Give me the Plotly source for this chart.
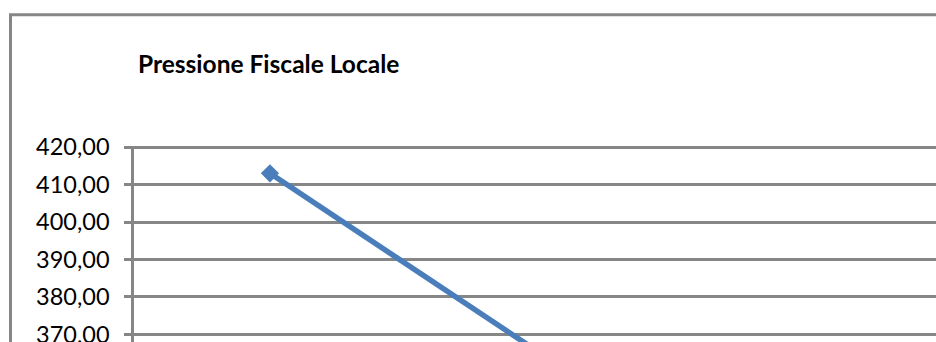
import plotly.graph_objects as go

categories = ["1", "2"]
values = [413.0, 364.7]
y_ticks = [370, 380, 390, 400, 410, 420]

W, H = 936, 342
Y_MIN, Y_MAX = 367.95, 420.3
PX_PER_UNIT = 195 / 52.05
L = 134
T = 147 - (Y_MAX - 420) * PX_PER_UNIT
PW, PH = W - L, H - T

def px_x(p):
    return (p - L) / PW

def px_y(p):
    return (H - p) / PH

GRID = "#868686"
BLUE = "#4A7EBB"

fig = go.Figure()
fig.add_trace(go.Scatter(
    x=categories, y=values, mode="lines+markers",
    line=dict(color=BLUE, width=5.5),
    marker=dict(symbol="diamond", size=14, color=BLUE),
    cliponaxis=True, showlegend=False,
))

fig.update_layout(
    width=W, height=H,
    margin=dict(l=L, r=0, t=T, b=0, pad=0, autoexpand=False),
    paper_bgcolor="white", plot_bgcolor="white",
    separators=",.",
    font=dict(family="Lato, Carlito, Calibri, sans-serif", color="#000000"),
    xaxis=dict(type="category", range=[-0.5, 2.45], showgrid=False,
               showticklabels=False, ticks="", showline=False, zeroline=False,
               automargin=False, fixedrange=True),
    yaxis=dict(range=[Y_MIN, Y_MAX], tickvals=y_ticks, tickformat=".2f",
               showgrid=True, gridcolor=GRID, gridwidth=2.5,
               showline=True, linecolor=GRID, linewidth=2.5,
               ticks="outside", ticklen=7, tickcolor=GRID, tickwidth=2.5,
               ticklabelstandoff=10, ticklabeloverflow="allow",
               tickfont=dict(size=23.5, color="#000000"),
               zeroline=False, automargin=False, fixedrange=True),
    shapes=[dict(type="path", xref="paper", yref="paper",
                 path=f"M {px_x(10.5)},{px_y(H + 5)} L {px_x(10.5)},{px_y(14.5)} L {px_x(W + 5)},{px_y(14.5)}",
                 line=dict(color=GRID, width=3), layer="above")],
    annotations=[dict(text="<b>Pressione Fiscale Locale</b>", xref="paper", yref="paper",
                      x=px_x(136), y=px_y(63), xanchor="left", yanchor="middle",
                      showarrow=False, font=dict(size=24.5, color="#000000"))],
)

fig.write_html("out.html")
